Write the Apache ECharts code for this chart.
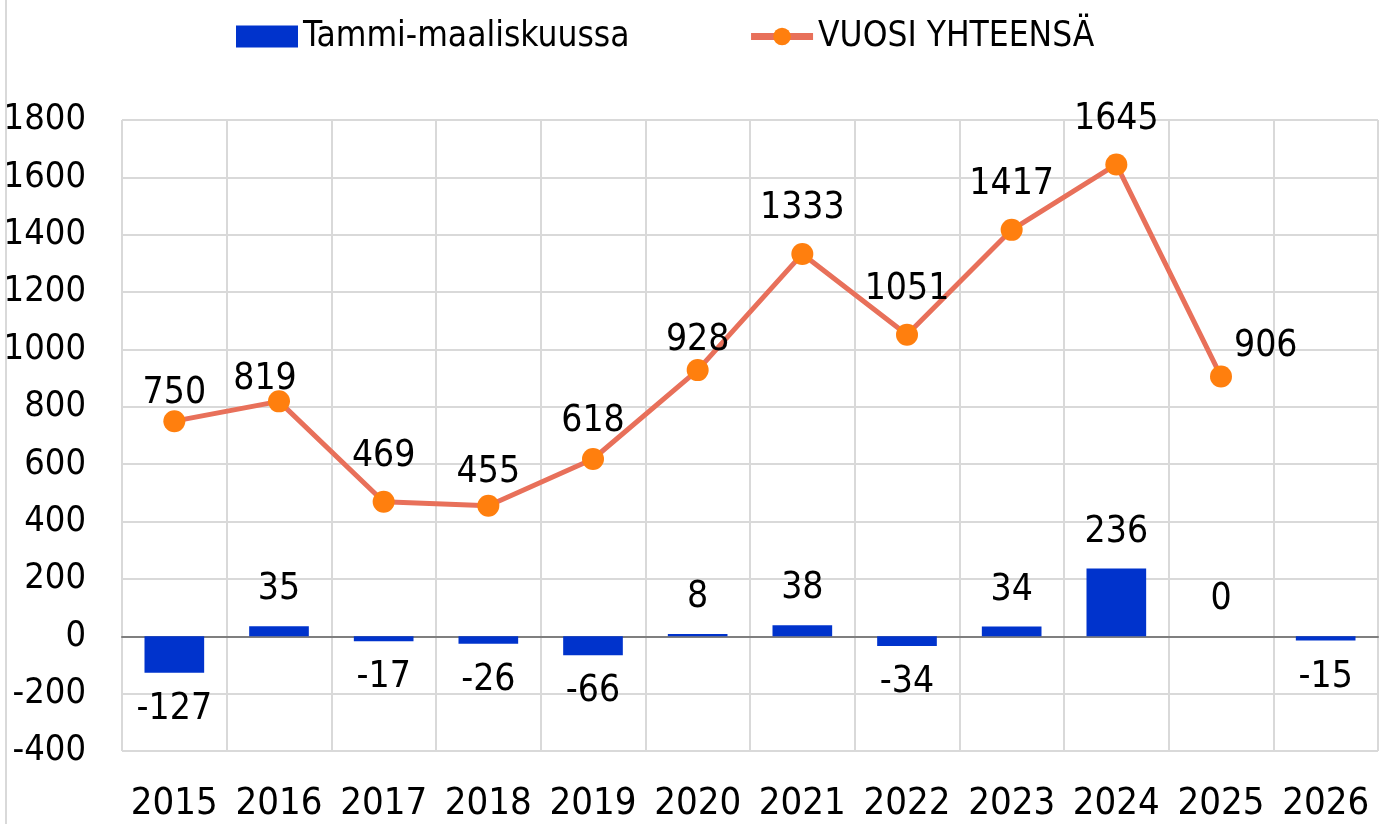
<!DOCTYPE html>
<html>
    <head>
        <meta charset="utf-8">
        <script src="https://cdn.jsdelivr.net/npm/echarts@6/dist/echarts.min.js"></script>
        <style>
            body {
                margin: 0;
                background: #fff;
            }
            #main {
                width: 1379px;
                height: 824px;
            }
        </style>
    </head>
    <body>
        <div id="main"></div>

        <script>
        const years = ['2015', '2016', '2017', '2018', '2019', '2020', '2021', '2022', '2023', '2024', '2025', '2026'];
        const q1Values = [-127, 35, -17, -26, -66, 8, 38, -34, 34, 236, 0, -15];
        const yearTotals = [750, 819, 469, 455, 618, 928, 1333, 1051, 1417, 1645, 906, null];
        const barName = 'Tammi-maaliskuussa';
        const lineName = 'VUOSI YHTEENSÄ';

        const font = '"DejaVu Sans Condensed", "Liberation Sans Narrow", "DejaVu Sans", sans-serif';

        // hand-nudged label spots, like in the original sheet
        const lineLabelNudge = {
            '2015': { offset: [0, 18] },
            '2016': { offset: [-14, 24] },
            '2018': { offset: [0, 12] },
            '2019': { offset: [0, 8] },
            '2020': { offset: [0, 16] },
            '2025': { position: 'right', offset: [-14, -30] }
        };

        const chart = echarts.init(document.getElementById('main'));

        // negative bars get their label underneath
        const barData = q1Values.map(function (v) {
            return {
                value: v,
                label: { position: v < 0 ? 'bottom' : 'top' }
            };
        });

        const lineData = yearTotals.map(function (v, i) {
            const nudge = lineLabelNudge[years[i]];
            return nudge ? { value: v, label: nudge } : v;
        });

        chart.setOption({
            animation: false,
            textStyle: { fontFamily: font },
            graphic: [{
                type: 'rect',
                left: 5,
                top: 0,
                shape: { width: 2, height: 824 },
                style: { fill: '#d9d9d9' },
                silent: true
            }],
            legend: {
                top: 14,
                left: 231,
                itemGap: 118,
                itemWidth: 62,
                itemHeight: 22,
                textStyle: { fontSize: 35, color: '#000', fontFamily: font },
                data: [
                    { name: barName, icon: 'rect' },
                    { name: lineName, lineStyle: { width: 7 } }
                ]
            },
            grid: {
                left: 122,
                right: 1,
                top: 120,
                bottom: 73,
                containLabel: false,
                outerBoundsMode: 'none'
            },
            xAxis: {
                type: 'category',
                data: years,
                axisLine: { onZero: true, lineStyle: { color: '#7f7f7f', width: 2 } },
                axisTick: { show: false },
                axisLabel: { interval: 0, fontSize: 38, color: '#000', margin: 34, fontFamily: font },
                splitLine: { show: true, interval: 0, lineStyle: { color: '#d9d9d9', width: 2 } }
            },
            yAxis: {
                type: 'value',
                min: -400,
                max: 1800,
                interval: 200,
                axisLine: { show: false },
                axisTick: { show: false },
                axisLabel: {
                    fontSize: 36,
                    color: '#000',
                    margin: 36,
                    fontFamily: font,
                    formatter: function (v) { return String(v); }
                },
                splitLine: { lineStyle: { color: '#d9d9d9', width: 2 } }
            },
            series: [
                {
                    name: barName,
                    type: 'bar',
                    data: barData,
                    barWidth: '57%',
                    itemStyle: { color: '#0033cc' },
                    label: {
                        show: true,
                        distance: 18,
                        fontSize: 37,
                        color: '#000',
                        fontFamily: font
                    }
                },
                {
                    name: lineName,
                    type: 'line',
                    data: lineData,
                    symbol: 'circle',
                    symbolSize: 22,
                    lineStyle: { color: '#e8705a', width: 5 },
                    itemStyle: { color: '#ff7f0e' },
                    label: {
                        show: true,
                        position: 'top',
                        distance: 16,
                        fontSize: 37,
                        color: '#000',
                        fontFamily: font
                    }
                }
            ]
        });
        </script>
    </body>
</html>
